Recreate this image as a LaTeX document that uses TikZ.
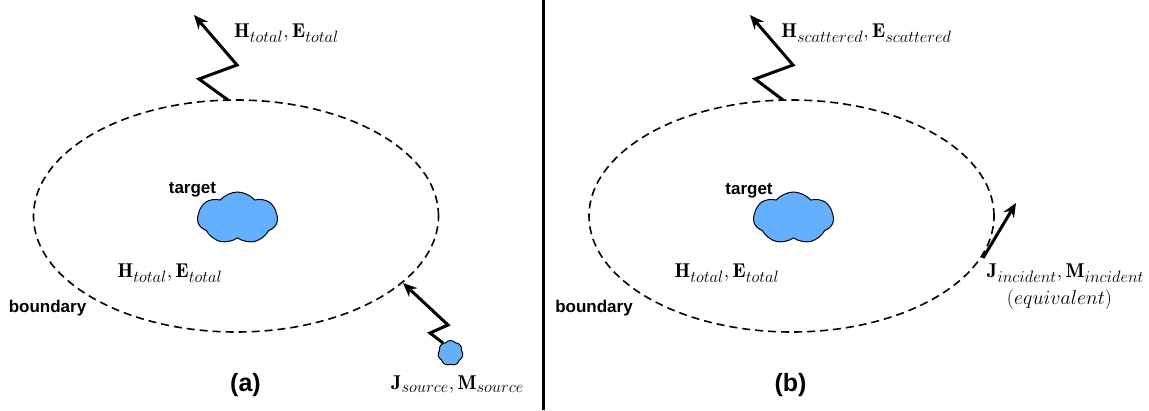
\RequirePackage{fix-cm}
\documentclass[tikz,border=0pt]{standalone}
\usepackage{fontspec}
\setsansfont{Liberation Sans}
\DeclareMathSizes{20}{20}{16.5}{12}
\usetikzlibrary{shapes.geometric,shapes.symbols,arrows.meta}
\definecolor{cloudblue}{RGB}{100,176,255}
\begin{document}
\begin{tikzpicture}[x=1pt,y=-1pt,
  bound/.style={ellipse,draw,line width=1.6pt,dash pattern=on 8pt off 5pt,inner sep=0pt,minimum width=405pt,minimum height=232pt},
  blob/.style={cloud,cloud puffs=7,cloud puff arc=100,cloud ignores aspect,draw,line width=1pt,fill=cloudblue,inner sep=0pt},
  wave/.style={line width=3pt,-{Stealth[length=14pt,width=12pt]}},
  lbl/.style={font=\sffamily\bfseries\fontsize{17}{20}\selectfont,inner sep=0pt},
  captext/.style={font=\sffamily\bfseries\fontsize{25}{30}\selectfont,inner sep=0pt},
  mth/.style={font=\fontsize{20}{24}\selectfont,inner sep=0pt}]
\useasboundingbox (0,0) rectangle (1149,410);
% divider
\coordinate (dtop) at (543,0);
\coordinate (dbot) at (543,410);
\draw[line width=3pt] (dtop) -- (dbot);
% ---------- (a)
\node[bound] (ellA) at (236,216) {};
\node[blob,minimum width=80pt,minimum height=52pt] (tgtA) at (237.5,218) {};
\node[lbl] (tA) at (192.5,190) {target};
\node[lbl] (bA) at (47.5,308) {boundary};
\node[mth] (inA) at (170,273) {$\mathbf{H}_{total},\mathbf{E}_{total}$};
\node[mth] (outA) at (286.5,33) {$\mathbf{H}_{total},\mathbf{E}_{total}$};
\coordinate (a0) at (228,100);
\coordinate (a1) at (199,79);
\coordinate (a2) at (237,65);
\coordinate (a3) at (194,15);
\draw[wave,line join=miter] (a0) -- (a1) -- (a2) -- (a3);
\node[blob,cloud puffs=7,minimum width=25pt,minimum height=25pt] (src) at (450.5,353) {};
\coordinate (s0) at (443,343);
\coordinate (s1) at (430,333);
\coordinate (s2) at (448,325);
\coordinate (s3) at (403,283);
\draw[wave,line join=miter] (s0) -- (s1) -- (s2) -- (s3);
\node[mth] (srcl) at (457.5,385) {$\mathbf{J}_{source},\mathbf{M}_{source}$};
\node[captext] (capA) at (245.5,385) {(a)};
% ---------- (b)
\node[bound] (ellB) at (791.5,216) {};
\node[blob,minimum width=80pt,minimum height=52pt] (tgtB) at (793.5,218) {};
\node[lbl] (tB) at (749,191) {target};
\node[lbl] (bB) at (594,308) {boundary};
\node[mth] (inB) at (727,273) {$\mathbf{H}_{total},\mathbf{E}_{total}$};
\node[mth] (outB) at (866.5,33) {$\mathbf{H}_{scattered},\mathbf{E}_{scattered}$};
\coordinate (b0) at (783,100);
\coordinate (b1) at (755,79);
\coordinate (b2) at (793,65);
\coordinate (b3) at (750,15);
\draw[wave,line join=miter] (b0) -- (b1) -- (b2) -- (b3);
\coordinate (i0) at (983,258);
\coordinate (i1) at (1016,203);
\draw[wave] (i0) -- (i1);
\node[mth] (incl) at (1065.5,273) {$\mathbf{J}_{incident},\mathbf{M}_{incident}$};
\node[mth] (eqv) at (1059.5,299) {$(equivalent)$};
\node[captext] (capB) at (790.5,385) {(b)};
\end{tikzpicture}
\end{document}
